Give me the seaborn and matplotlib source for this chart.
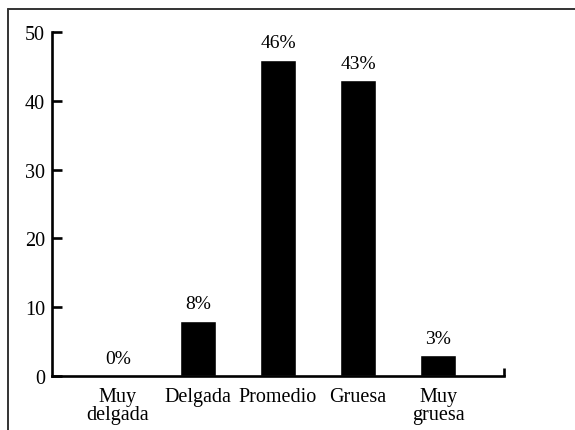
import pandas as pd
import seaborn as sns
import matplotlib.pyplot as plt
from matplotlib.lines import Line2D

# Datos
categorias = ["Muy\ndelgada", "Delgada", "Promedio", "Gruesa", "Muy\ngruesa"]
valores = [0, 8, 46, 43, 3]
etiquetas = ["0%", "8%", "46%", "43%", "3%"]
yticks = [0, 10, 20, 30, 40, 50]

df = pd.DataFrame({"categoria": categorias, "valor": valores})

sns.set_style("white")
plt.rcParams["font.family"] = ["Liberation Serif", "DejaVu Serif"]
plt.rcParams["text.color"] = "black"
plt.rcParams["xtick.color"] = "black"
plt.rcParams["ytick.color"] = "black"
plt.rcParams["xtick.labelcolor"] = "black"
plt.rcParams["ytick.labelcolor"] = "black"

fig = plt.figure(figsize=(5.75, 4.31), dpi=100)
W, H = 575, 431
ax = fig.add_axes([52 / W, 1 - 377 / H, (504 - 52) / W, (377 - 33) / H])

sns.barplot(data=df, x="categoria", y="valor", color="black", width=0.46,
            saturation=1, ax=ax)

ax.set_xlim(-0.825, 4.825)
ax.set_ylim(0, 50)
ax.set_yticks(yticks)
ax.set_xlabel("")
ax.set_ylabel("")

for s in ["top", "right"]:
    ax.spines[s].set_visible(False)
for s in ["left", "bottom"]:
    ax.spines[s].set_linewidth(1.9)
    ax.spines[s].set_color("black")

ax.tick_params(axis="y", direction="in", length=7, width=1.9, pad=5,
               labelsize=14.5, left=True, colors="black")
ax.tick_params(axis="x", which="major", length=0, pad=8, labelsize=14.5,
               colors="black")
ax.set_xticks([4.825], minor=True)
ax.tick_params(axis="x", which="minor", direction="in", length=6, width=1.9,
               bottom=True)
for t in ax.get_xticklabels():
    t.set_linespacing(0.95)

for i, (v, lab) in enumerate(zip(valores, etiquetas)):
    ax.annotate(lab, (i, v), xytext=(0, 9), textcoords="offset points",
                ha="center", va="baseline", fontsize=14, color="black")

# marco de la figura
fig.add_artist(Line2D([8 / W, 1], [1 - 10 / H, 1 - 10 / H], color="#333333",
                      lw=1.4, transform=fig.transFigure))
fig.add_artist(Line2D([8 / W, 8 / W], [0, 1 - 10 / H], color="#333333",
                      lw=1.4, transform=fig.transFigure))

fig.savefig("out.png", dpi=100)
